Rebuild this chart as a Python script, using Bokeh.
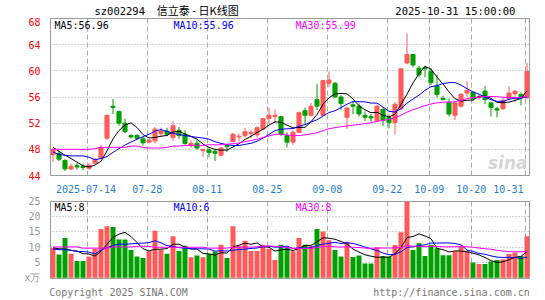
import numpy as np
import pandas as pd
from bokeh.plotting import figure
from bokeh.layouts import column
from bokeh.models import ColumnDataSource, FixedTicker, Label, Range1d
from bokeh.embed import file_html
from bokeh.resources import INLINE

# ---------------- data ----------------
date_labels = ["2025-07-14", "07-28", "08-11", "08-25", "09-08", "09-22", "10-09", "10-20", "10-31"]
date_index = [6, 16, 26, 36, 46, 56, 63, 70, 79]

opens = [47.2, 47.4, 46.3, 45.0, 45.5, 45.4, 45.1, 45.9, 46.6, 49.7,
         54.6, 53.8, 52.0, 50.1, 50.1, 49.6, 49.1, 49.3, 50.4, 50.8,
         49.8, 50.9, 50.3, 48.6, 48.9, 47.8, 47.9, 47.7, 47.1, 48.6,
         49.2, 49.9, 50.1, 50.4, 50.2, 51.1, 52.7, 53.0, 53.0, 50.1,
         49.1, 50.6, 53.9, 53.2, 55.6, 53.2, 58.1, 58.1, 56.0, 52.9,
         54.8, 54.6, 53.2, 53.0, 52.4, 54.1, 52.9, 52.1, 54.2, 61.2,
         62.5, 60.4, 60.5, 59.9, 57.7, 55.8, 55.2, 53.2, 54.6, 56.6,
         56.7, 55.9, 56.9, 55.1, 54.2, 54.2, 55.8, 56.5, 56.4, 55.9]
highs = [48.2, 47.8, 46.5, 45.8, 45.9, 45.8, 45.9, 46.6, 48.7, 53.3,
         55.7, 53.9, 52.7, 50.3, 50.3, 49.9, 49.6, 51.4, 51.3, 51.3,
         52.3, 51.4, 50.9, 49.4, 49.4, 48.1, 48.3, 48.0, 48.3, 48.9,
         50.5, 50.4, 51.3, 51.0, 51.5, 52.8, 54.4, 54.1, 53.1, 50.6,
         51.0, 53.8, 54.4, 55.1, 58.0, 58.5, 59.9, 58.3, 56.3, 54.5,
         55.4, 55.0, 53.8, 53.4, 54.8, 54.4, 53.3, 55.2, 60.4, 65.7,
         62.5, 60.8, 60.8, 60.4, 59.4, 56.2, 55.8, 55.3, 56.6, 58.4,
         56.9, 56.4, 57.7, 55.2, 54.5, 56.1, 57.7, 57.0, 56.7, 61.2]
lows = [46.1, 46.2, 44.7, 44.8, 44.9, 44.8, 44.9, 45.7, 46.5, 49.4,
        53.4, 51.6, 50.5, 49.6, 49.4, 48.6, 48.9, 48.9, 50.0, 50.0,
        49.3, 49.6, 48.7, 48.2, 47.9, 46.9, 46.8, 46.2, 47.0, 47.6,
        49.1, 49.2, 49.8, 49.7, 49.8, 51.0, 51.9, 52.0, 50.0, 48.3,
        48.7, 50.5, 51.8, 53.0, 54.0, 53.1, 57.5, 55.9, 54.0, 51.1,
        53.4, 53.0, 52.3, 52.2, 52.3, 51.6, 51.2, 50.3, 54.0, 61.0,
        60.5, 59.0, 59.0, 57.8, 55.9, 55.5, 53.0, 52.5, 54.4, 56.0,
        55.4, 55.6, 54.9, 53.0, 52.9, 54.0, 55.5, 55.2, 54.7, 55.7]
closes = [48.0, 46.5, 45.0, 45.4, 45.3, 45.2, 45.6, 46.5, 48.3, 53.2,
          54.4, 52.0, 50.7, 49.9, 49.7, 49.0, 49.4, 51.1, 50.8, 50.3,
          51.6, 50.1, 48.9, 48.9, 48.2, 48.0, 47.5, 47.4, 48.2, 48.4,
          50.3, 50.0, 50.7, 50.6, 51.3, 52.7, 53.2, 53.2, 50.3, 49.1,
          50.6, 53.6, 53.2, 54.6, 54.6, 58.5, 58.6, 56.0, 55.0, 54.3,
          54.6, 53.4, 52.9, 52.8, 54.6, 52.4, 52.1, 54.9, 60.3, 62.5,
          60.9, 59.4, 60.3, 58.2, 56.4, 55.6, 53.4, 55.1, 56.4, 57.0,
          55.8, 56.1, 55.6, 54.4, 54.0, 55.5, 56.6, 56.9, 55.9, 59.9]
volumes = [9.8, 7.6, 13.0, 7.9, 5.5, 5.5, 7.0, 9.5, 16.0, 16.9,
           16.6, 12.5, 12.5, 9.1, 7.0, 6.5, 8.7, 15.4, 9.3, 7.9,
           13.6, 8.8, 10.5, 6.7, 7.3, 6.7, 7.8, 8.6, 10.8, 6.5,
           16.9, 10.5, 12.1, 8.8, 8.8, 10.8, 9.5, 5.8, 10.8, 9.8,
           8.7, 13.0, 10.8, 10.5, 16.0, 15.2, 12.3, 9.1, 7.0, 11.8,
           6.8, 7.3, 4.7, 4.7, 10.0, 7.1, 7.0, 10.7, 14.9, 26.0,
           9.1, 11.3, 7.1, 10.7, 9.7, 7.4, 7.4, 8.7, 10.5, 8.7,
           5.0, 4.5, 4.5, 5.3, 5.8, 6.1, 7.8, 8.3, 7.1, 13.6]

# moving-average values before the window is complete
ma5_head = [48.3, 47.7, 47.1, 46.6]
ma10_head = [47.6, 47.2, 47.1, 47.0, 47.0, 47.0, 46.8, 46.4, 46.6]
ma30_head = [48.0, 48.0, 48.0, 48.0, 48.0, 48.0, 48.0, 48.1, 48.3, 48.3,
             48.3, 48.3, 48.3, 48.5, 48.5, 48.3, 48.2, 48.2, 48.2, 48.3,
             48.5, 48.5, 48.6, 48.6, 48.6, 48.6, 48.7, 48.7, 48.7]
vma5_head = [9.8, 9.5, 9.4, 9.0]
vma10_head = [9.4, 9.2, 9.2, 9.0, 8.6, 8.6, 8.4, 7.8, 9.0]
vma30_head = [10.1, 10.1, 10.1, 10.1, 10.1, 9.7, 9.7, 9.7, 9.7, 9.7,
              10.1, 10.1, 10.1, 10.1, 10.3, 10.3, 10.3, 10.0, 10.0, 10.0,
              10.0, 10.0, 10.0, 10.0, 10.0, 10.0, 9.7, 9.7, 9.7]

title_code = "sz002294"
title_name = "信立泰 - 日K线图"
title_time = "2025-10-31 15:00:00"
ma_texts = ["MA5:56.96", "MA10:55.96", "MA30:55.99"]
vma_texts = ["MA5:8", "MA10:6", "MA30:8"]
price_ticks = [44, 48, 52, 56, 60, 64, 68]
vol_ticks = [0, 5, 10, 15, 20, 25]
vol_unit = "x万"
footer_texts = ["Copyright 2025 SINA.COM", "http://finance.sina.com.cn"]

# ---------------- styles ----------------
RED = "#ff5a5a"
GREEN = "#00a000"
MA_COLORS = ["#000000", "#0000ff", "#ff00ff"]
MONO = "DejaVu Sans Mono"
CJK = "Noto Sans CJK SC"
GRID = "#aaaaaa"

n = len(closes)
idx = np.arange(n)


def with_head(series, window, head):
    s = pd.Series(series, dtype=float).rolling(window).mean().to_numpy()
    s[:window - 1] = head
    return s


ma5 = with_head(closes, 5, ma5_head)
ma10 = with_head(closes, 10, ma10_head)
ma30 = with_head(closes, 30, ma30_head)
vma5 = with_head(volumes, 5, vma5_head)
vma10 = with_head(volumes, 10, vma10_head)
vma30 = with_head(volumes, 30, vma30_head)

o = np.array(opens); c = np.array(closes)
colors = np.where(c >= o, RED, GREEN)
src = ColumnDataSource(dict(x=idx, o=o, c=c, h=highs, l=lows,
                            top=np.maximum(o, c), bot=np.minimum(o, c),
                            vol=volumes, color=colors,
                            ma5=ma5, ma10=ma10, ma30=ma30,
                            vma5=vma5, vma10=vma10, vma30=vma30))

X0, X1 = -2.5 / 6, 476.5 / 6
grid_pos = [d - 0.3 for d in date_index]
label_pos = list(grid_pos)
label_pos[0] = 5.5
label_pos[-1] = 75.9


def px(xpix):
    # canvas pixel column -> candle index coordinate
    return (xpix - 52.5) / 6.0


def txt(fig, x, ytop, text, color, size="10px", align="left", font=MONO, style="normal"):
    # canvas units: y measured from the top of this figure's canvas
    fig.add_layout(Label(x=x, y=ytop, x_units="canvas", y_units="canvas", text=text,
                         text_color=color, text_font_size=size, text_align=align,
                         text_baseline="middle", text_font=font, text_font_style=style))


def style_fig(fig, yticks, ycolor, hgrid):
    fig.outline_line_color = "#999999"
    fig.outline_line_width = 1
    fig.background_fill_color = "white"
    fig.border_fill_color = "white"
    ya = fig.yaxis[0]
    ya.ticker = FixedTicker(ticks=yticks)
    ya.major_label_text_color = ycolor
    ya.major_label_text_font = MONO
    ya.major_label_text_font_size = "10px"
    ya.major_tick_line_color = None
    ya.minor_tick_line_color = None
    ya.axis_line_color = None
    ya.major_label_standoff = 4
    fig.ygrid.ticker = FixedTicker(ticks=hgrid)
    fig.ygrid.grid_line_color = GRID
    fig.ygrid.grid_line_dash = "1 2"
    fig.xgrid.ticker = FixedTicker(ticks=grid_pos)
    fig.xgrid.grid_line_color = GRID
    fig.xgrid.grid_line_dash = "5 3"


# ---------------- header ----------------
hdr = figure(width=545, height=17, x_range=Range1d(0, 545), y_range=Range1d(17, 0),
             output_backend="svg", toolbar_location=None, title=None,
             x_axis_location=None, y_axis_location=None, min_border=0)
hdr.outline_line_color = None
hdr.grid.visible = False
for xx, yy, t, sz, fnt, al in [(50, 10, title_code, "10.5px", MONO, "left"),
                               (121, 9, title_name, "11px", CJK, "left"),
                               (529, 10, title_time, "10.5px", MONO, "right")]:
    hdr.add_layout(Label(x=xx, y=yy, text=t, text_color="#000000", text_font_size=sz,
                         text_font=fnt, text_align=al, text_baseline="middle"))

# ---------------- price panel ----------------
p = figure(width=545, height=178, x_range=Range1d(X0, X1), y_range=Range1d(44, 68),
           output_backend="svg", toolbar_location=None, title=None,
           min_border_left=50, min_border_right=16, min_border_top=1, min_border_bottom=18)
style_fig(p, price_ticks, "#ff0000", [48, 52, 56, 60, 64])
xa = p.xaxis[0]
xa.ticker = FixedTicker(ticks=label_pos)
xa.major_label_overrides = {lp: lab for lp, lab in zip(label_pos, date_labels)}
xa.major_label_text_color = "#1f7fd0"
xa.major_label_text_font = MONO
xa.major_label_text_font_size = "10px"
xa.major_tick_line_color = None
xa.minor_tick_line_color = None
xa.axis_line_color = None
xa.major_label_standoff = 3

p.segment(x0="x", y0="l", x1="x", y1="h", color="color", line_width=1, source=src)
p.vbar(x="x", width=0.68, top="top", bottom="bot", fill_color="color", line_color="color",
       line_width=1, source=src)
for col, clr in zip(["ma5", "ma10", "ma30"], MA_COLORS):
    p.line(x="x", y=col, color=clr, line_width=1, source=src)

for xpos, t, clr in zip([54, 173, 295], ma_texts, MA_COLORS):
    txt(p, xpos, 7.5, t, clr)
txt(p, 527, 145, "sina", "#d5d5d5", size="17px", align="right", font="DejaVu Sans",
    style="bold italic")

# ---------------- volume panel ----------------
v = figure(width=545, height=105, x_range=p.x_range, y_range=Range1d(-0.25, 25),
           output_backend="svg", toolbar_location=None, title=None,
           min_border_left=50, min_border_right=16, min_border_top=6, min_border_bottom=14)
style_fig(v, vol_ticks, "#999999", [5, 10, 15, 20])
v.yaxis[0].major_label_overrides = {0: vol_unit}
vx = v.xaxis[0]
foot_pos = [px(118), px(451)]
vx.ticker = FixedTicker(ticks=foot_pos)
vx.major_label_overrides = {fp: t for fp, t in zip(foot_pos, footer_texts)}
vx.major_label_text_color = "#777777"
vx.major_label_text_font = MONO
vx.major_label_text_font_size = "10px"
vx.major_tick_line_color = None
vx.minor_tick_line_color = None
vx.axis_line_color = None
vx.major_label_standoff = 2

v.vbar(x="x", width=0.83, top="vol", bottom=0, fill_color="color", line_color=None, source=src)
for col, clr in zip(["vma5", "vma10", "vma30"], MA_COLORS):
    v.line(x="x", y=col, color=clr, line_width=1, source=src)

for xpos, t, clr in zip([54, 173, 295], vma_texts, MA_COLORS):
    txt(v, xpos, 11.5, t, clr)

layout = column(hdr, p, v)
open("out.html", "w").write(file_html(layout, INLINE))
